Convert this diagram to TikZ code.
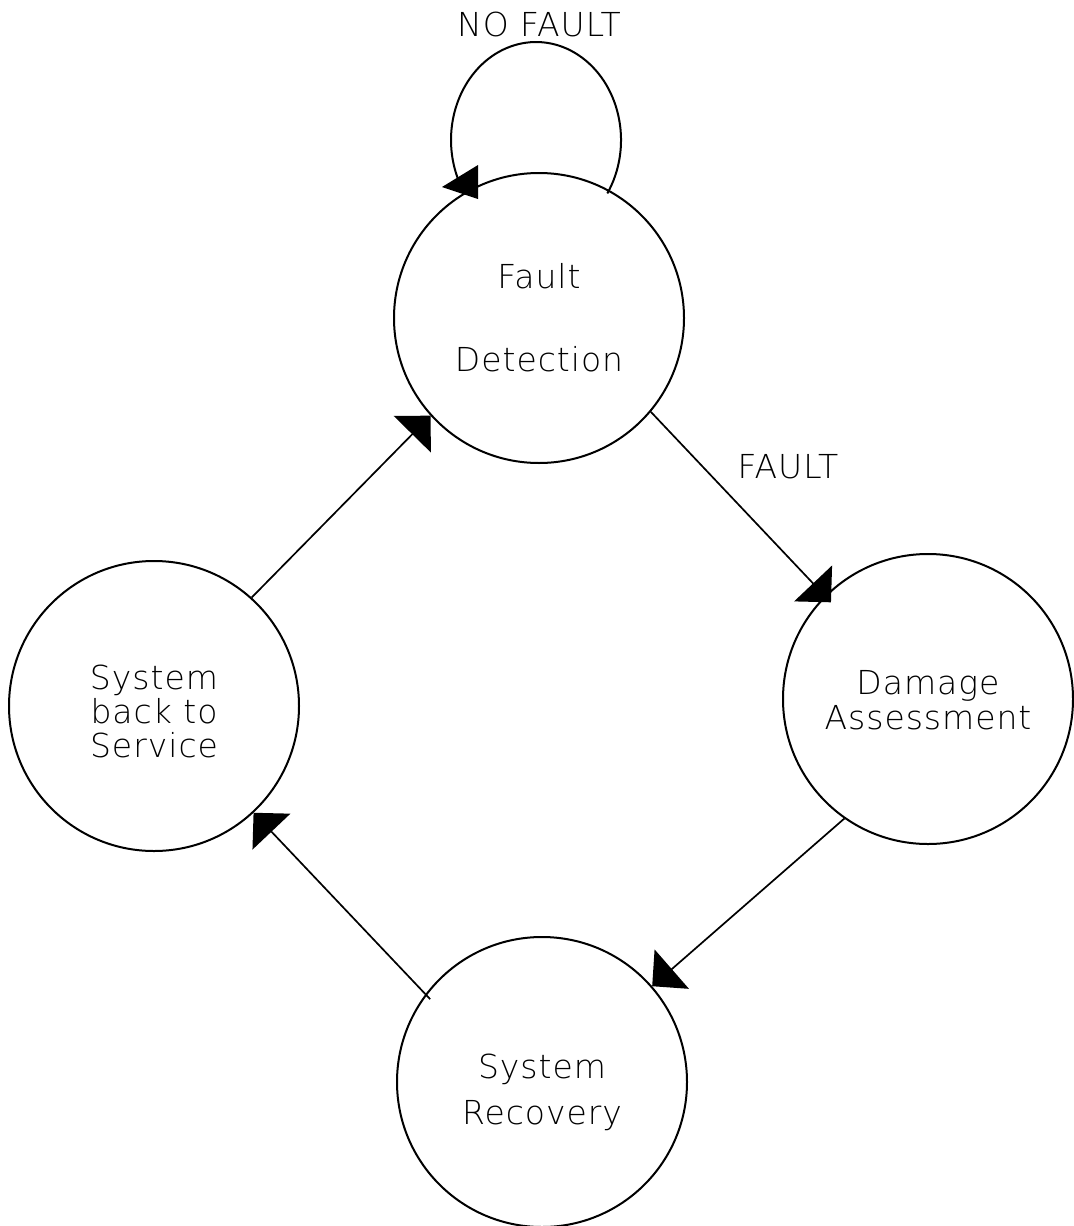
\documentclass[tikz,border=0pt]{standalone}
\usepackage{fontspec}
\setmainfont{DejaVu Sans ExtraLight}[LetterSpace=3]
\usetikzlibrary{arrows.meta,calc}
\begin{document}
\begin{tikzpicture}[x=0.5pt,y=0.5pt,
  lbl/.style={font=\fontsize{16.5}{17}\selectfont},
  state/.style={circle,draw,line width=1pt,minimum size=145pt,inner sep=0pt},
  flow/.style={line width=0.85pt,-{Triangle[length=13pt,width=26pt]}},
  loopline/.style={line width=1pt},
]
\fill[white] (0,0) rectangle (1074,-1226);
\useasboundingbox (0,0) rectangle (1074,-1226);

% states of the fault handling cycle
\node[state,label={[lbl,align=center]center:Fault\\[24.5pt]Detection}] (fd) at (539,-318) {};
\node[state,label={[lbl,align=center,yshift=-0.5pt]center:Damage\\[0.5pt]Assessment}] (da) at (928,-699) {};
\node[state,label={[lbl,align=center,yshift=-5pt]center:System\\[6pt]Recovery}] (sr) at (542,-1082) {};
\node[state,label={[lbl,align=center,yshift=-2.5pt]center:System\\back to\\Service}] (sb) at (154,-706) {};

% transitions
\draw[flow, shorten >=-4.5pt] (fd.-40) -- (da.135);
\draw[flow] (da.235) -- (sr.41);
\draw[flow, shorten <=-3.5pt] (sr.143) -- (sb.-47);
\draw[flow] (sb.48) -- (fd.222);

% self loop on fault detection
\path (fd.center) ++(-3,178) coordinate (lc);
\draw[loopline] ([shift={(71.3,-53.4)}]lc)
  arc[start angle=-33,end angle=204,x radius=85,y radius=98];
\fill ([shift={(-97,131)}]fd.center) -- ++(36,22) -- ++(0,-34) -- cycle;

% transition labels
\node[lbl] (nf) at (539,-24) {NO FAULT};
\node[lbl] (fl) at (788,-467) {FAULT};
\end{tikzpicture}
\end{document}
